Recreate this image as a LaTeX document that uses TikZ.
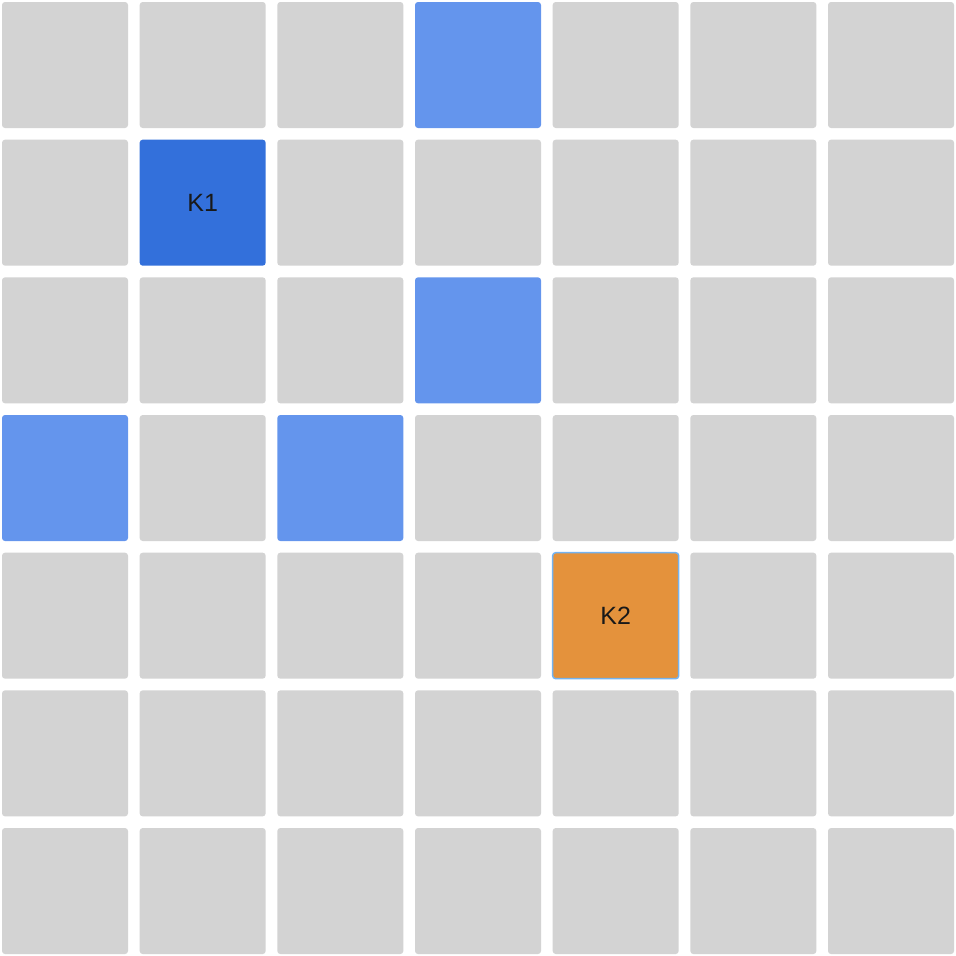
\documentclass[tikz,border=0pt]{standalone}
\usepackage{fontspec}
\setmainfont{Liberation Sans}
\definecolor{cellgray}{HTML}{D3D3D3}
\definecolor{hlblue}{HTML}{6495ED}
\definecolor{kblue}{HTML}{3370DB}
\definecolor{korange}{HTML}{E4923C}
\definecolor{kborder}{HTML}{74B3F0}
\begin{document}
\begin{tikzpicture}[x=1pt,y=-1pt,
  cell/.style={fill=cellgray,rounded corners=3pt,minimum size=126pt,inner sep=0pt},
  every label/.style={font=\fontsize{25}{30}\selectfont,text=black!90,inner sep=0pt},
  % highlighted squares, looked up as c-<col>-<row>
  c-3-0/.style={fill=hlblue},
  c-1-1/.style={fill=kblue,label={center:K1}},
  c-3-2/.style={fill=hlblue},
  c-0-3/.style={fill=hlblue},
  c-2-3/.style={fill=hlblue},
  c-4-4/.style={fill=korange,draw=kborder,line width=1.5pt,label={center:K2}},
]
  \useasboundingbox (0,0) rectangle (956,956);
  \foreach \r in {0,...,6}{
    \foreach \c in {0,...,6}{
      \node[cell,c-\c-\r/.try] (c-\c-\r) at ({65+137.67*\c},{65+137.67*\r}) {};
    }
  }
\end{tikzpicture}
\end{document}
